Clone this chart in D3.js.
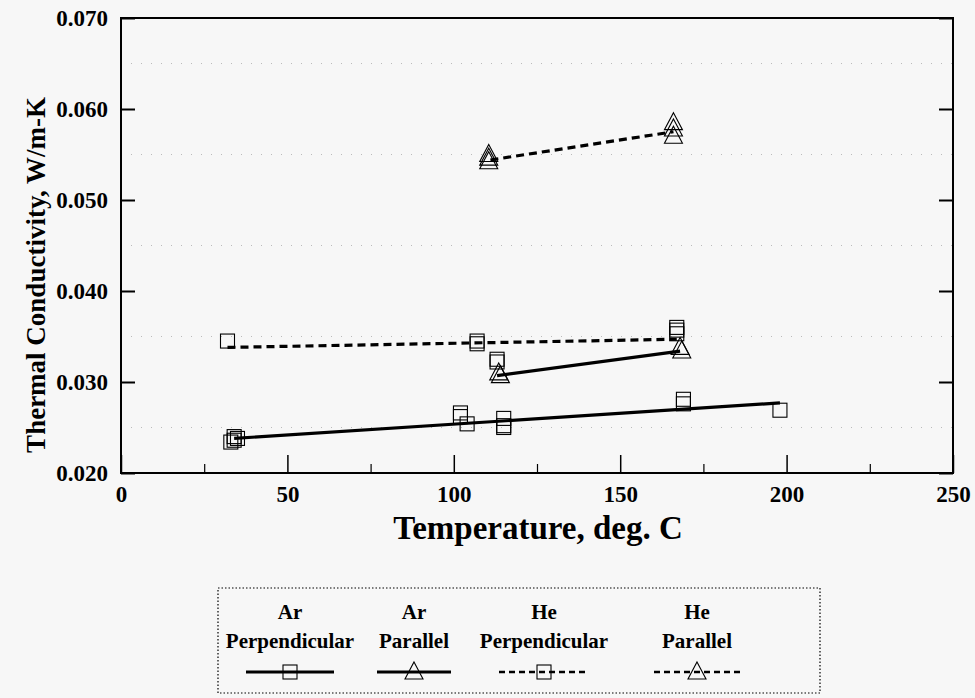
<!DOCTYPE html>
<html><head><meta charset="utf-8">
<script src="https://cdn.jsdelivr.net/npm/d3@7"></script>
<style>
html,body{margin:0;padding:0;background:#f7f7f7;}
svg{display:block;}
</style></head>
<body>
<script>
// ---- data ----
const arPerpT = [33, 34, 35, 34, 102, 102, 104, 115, 115, 115, 169, 169, 198];
const arPerpK = [0.0234, 0.0236, 0.0238, 0.0240, 0.0266, 0.0262, 0.0254, 0.0260, 0.0252, 0.0250, 0.0281, 0.0276, 0.0269];
const arPerpFitT = [34, 198];
const arPerpFitK = [0.0238, 0.0277];

const arParT = [113.5, 114, 168, 168.5];
const arParK = [0.0310, 0.0307, 0.0338, 0.0334];
const arParFitT = [113, 168];
const arParFitK = [0.0307, 0.0334];

const hePerpT = [32, 107, 107, 113, 113, 167, 167, 167];
const hePerpK = [0.0345, 0.0345, 0.0342, 0.0325, 0.0322, 0.0360, 0.0357, 0.0353];
const hePerpFitT = [32, 167];
const hePerpFitK = [0.0338, 0.0347];

const heParT = [110.5, 110.5, 110.5, 166, 166, 166];
const heParK = [0.0550, 0.0546, 0.0542, 0.0585, 0.0578, 0.0570];
const heParFitT = [111, 166];
const heParFitK = [0.0544, 0.0575];

const xTicks = [0, 50, 100, 150, 200, 250];
const xMinorTicks = [25, 75, 125, 175, 225];
const yTicks = [0.020, 0.030, 0.040, 0.050, 0.060, 0.070];
const yGrid = [0.025, 0.035, 0.045, 0.055, 0.065];

const legendGas = ["Ar", "Ar", "He", "He"];
const legendOrient = ["Perpendicular", "Parallel", "Perpendicular", "Parallel"];
const legendMarker = ["square", "triangle", "square", "triangle"];
const legendDashed = [false, false, true, true];

const xLabel = "Temperature, deg. C";
const yLabel = "Thermal Conductivity, W/m-K";

// ---- layout ----
const W = 975, H = 698;
const L = 121, R = 953, T = 18, B = 473;
const FONT = "Liberation Serif, Times New Roman, serif";

const svg = d3.select("body").append("svg").attr("width", W).attr("height", H)
  .attr("font-family", FONT);
svg.append("rect").attr("width", W).attr("height", H).attr("fill", "#f7f7f7");

const x = d3.scaleLinear().domain([0, 250]).range([L, R]);
const y = d3.scaleLinear().domain([0.020, 0.070]).range([B, T]);

// gridlines
svg.append("g").selectAll("line").data(yGrid).join("line")
  .attr("x1", L).attr("x2", R).attr("y1", d => y(d)).attr("y2", d => y(d))
  .attr("stroke", "#bbb").attr("stroke-width", 1).attr("stroke-dasharray", "1,9");

// frame
svg.append("rect").attr("x", L).attr("y", T).attr("width", R - L).attr("height", B - T)
  .attr("fill", "none").attr("stroke", "#000").attr("stroke-width", 2);

// bottom axis
const gx = svg.append("g").attr("transform", `translate(0,${B})`)
  .call(d3.axisBottom(x).tickValues(xTicks).tickSizeInner(-18).tickSizeOuter(0).tickPadding(13).tickFormat(d3.format("d")));
gx.attr("font-family", FONT);
gx.select(".domain").remove();
gx.selectAll(".tick line").attr("stroke-width", 1.5);
gx.selectAll("text").attr("font-family", FONT).attr("font-size", 23).attr("font-weight", "bold");
svg.append("g").attr("transform", `translate(0,${B})`)
  .call(d3.axisBottom(x).tickValues(xMinorTicks).tickSizeInner(-9).tickSizeOuter(0).tickFormat(""))
  .call(g => g.select(".domain").remove())
  .selectAll(".tick line").attr("stroke-width", 1.2);

// left axis
const gy = svg.append("g").attr("transform", `translate(${L},0)`)
  .call(d3.axisLeft(y).tickValues(yTicks).tickSizeInner(-14).tickSizeOuter(0).tickPadding(13).tickFormat(d3.format(".3f")));
gy.attr("font-family", FONT);
gy.select(".domain").remove();
gy.selectAll(".tick line").attr("stroke-width", 2);
gy.selectAll("text").attr("font-family", FONT).attr("font-size", 23).attr("font-weight", "bold");

// right axis ticks
svg.append("g").attr("transform", `translate(${R},0)`)
  .call(d3.axisRight(y).tickValues(yTicks).tickSizeInner(-14).tickSizeOuter(0).tickFormat(""))
  .call(g => g.select(".domain").remove())
  .selectAll(".tick line").attr("stroke-width", 2);

// axis titles
svg.append("text").attr("x", 538).attr("y", 539).attr("text-anchor", "middle")
  .attr("font-family", FONT).attr("font-size", 33).attr("font-weight", "bold").text(xLabel);
svg.append("text").attr("transform", `translate(45,275) rotate(-90)`)
  .attr("text-anchor", "middle").attr("font-family", FONT).attr("font-size", 27).attr("font-weight", "bold").text(yLabel);

// markers
function drawMarker(g, type, cx, cy) {
  if (type === "square") {
    g.append("rect").attr("x", cx - 7).attr("y", cy - 7).attr("width", 14).attr("height", 14)
      .attr("fill", "none").attr("stroke", "#000").attr("stroke-width", 1.1);
  } else {
    g.append("path").attr("d", `M${cx},${cy - 10}L${cx + 9},${cy + 7}L${cx - 9},${cy + 7}Z`)
      .attr("fill", "none").attr("stroke", "#000").attr("stroke-width", 1.1);
  }
}

const line = d3.line().x(d => x(d[0])).y(d => y(d[1]));
const series = [
  {t: arPerpT, k: arPerpK, ft: arPerpFitT, fk: arPerpFitK, m: "square", dash: false},
  {t: arParT, k: arParK, ft: arParFitT, fk: arParFitK, m: "triangle", dash: false},
  {t: hePerpT, k: hePerpK, ft: hePerpFitT, fk: hePerpFitK, m: "square", dash: true},
  {t: heParT, k: heParK, ft: heParFitT, fk: heParFitK, m: "triangle", dash: true}
];
series.forEach(s => {
  const g = svg.append("g");
  s.t.forEach((t, i) => drawMarker(g, s.m, x(t), y(s.k[i])));
  g.append("path").datum(s.ft.map((t, i) => [t, s.fk[i]])).attr("d", line)
    .attr("fill", "none").attr("stroke", "#000").attr("stroke-width", 3.2)
    .attr("stroke-dasharray", s.dash ? "8,5" : null);
});

// legend
const lg = svg.append("g");
lg.append("rect").attr("x", 218).attr("y", 588).attr("width", 602).attr("height", 105)
  .attr("fill", "none").attr("stroke", "#000").attr("stroke-width", 1.2).attr("stroke-dasharray", "1.5,2");
const legCx = [290, 414, 544, 697];
const legHalf = [44, 37, 45, 43];
legendGas.forEach((gas, i) => {
  const cx = legCx[i];
  lg.append("text").attr("x", cx).attr("y", 619).attr("text-anchor", "middle")
    .attr("font-family", FONT).attr("font-size", 21).attr("font-weight", "bold").text(gas);
  lg.append("text").attr("x", cx).attr("y", 648).attr("text-anchor", "middle")
    .attr("font-family", FONT).attr("font-size", 21).attr("font-weight", "bold").text(legendOrient[i]);
  lg.append("line").attr("x1", cx - legHalf[i]).attr("x2", cx + legHalf[i]).attr("y1", 672).attr("y2", 672)
    .attr("stroke", "#000").attr("stroke-width", legendDashed[i] ? 2.5 : 3)
    .attr("stroke-dasharray", legendDashed[i] ? "6,4" : null);
  drawMarker(lg, legendMarker[i], cx, 672);
});
</script>
</body></html>
